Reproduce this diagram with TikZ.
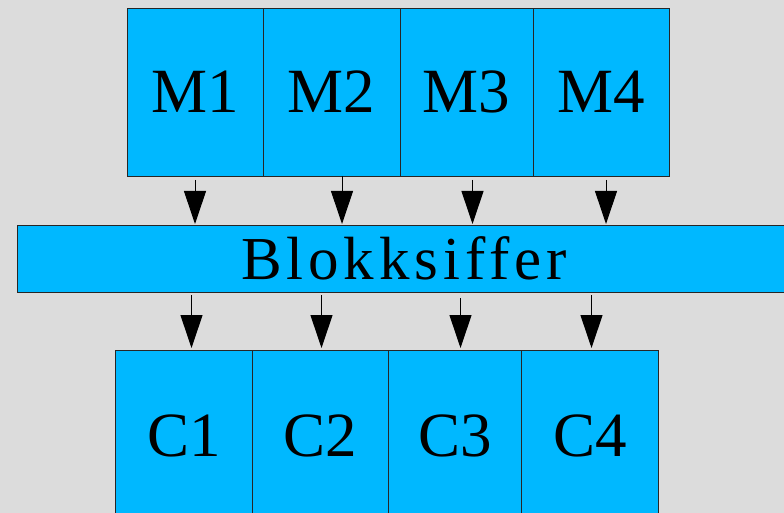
\documentclass[tikz,border=0pt]{standalone}
\usepackage{fontspec}
\setmainfont{Liberation Serif}
\newfontfamily\spacedfont[LetterSpace=8]{Liberation Serif}
\usetikzlibrary{arrows.meta}
\definecolor{bggray}{RGB}{220,220,220}
\definecolor{boxblue}{RGB}{0,184,255}
\begin{document}
\begin{tikzpicture}[x=1pt,y=-1pt,
  blk/.style={draw=black!85,line width=0.8pt,fill=boxblue,inner sep=0pt,
    minimum height=168pt,font=\fontsize{63}{63}\selectfont},
  flow/.style={line width=1pt,-{Triangle[length=33pt,width=22pt]}}]
\clip (0,0) rectangle (784,513);
\fill[bggray] (0,0) rectangle (784,513);
% message blocks
\node[blk,minimum width=136pt] (m1) at (195,92) {M1};
\node[blk,minimum width=137pt] (m2) at (331.5,92) {M2};
\node[blk,minimum width=133pt] (m3) at (466.5,92) {M3};
\node[blk,minimum width=136pt] (m4) at (601,92) {M4};
% cipher
\node[blk,minimum width=774pt,minimum height=67pt,font=\fontsize{61}{61}\spacedfont] (bs) at (404,258.5) {Blokksiffer};
% cipher blocks
\node[blk,minimum width=137pt,minimum height=172pt] (c1) at (184,436) {C1};
\node[blk,minimum width=136pt,minimum height=172pt] (c2) at (320.5,436) {C2};
\node[blk,minimum width=133pt,minimum height=172pt] (c3) at (455,436) {C3};
\node[blk,minimum width=137pt,minimum height=172pt] (c4) at (590,436) {C4};
% arrows top
\coordinate (t1s) at (195,180); \coordinate (t1e) at (195,224);
\coordinate (t2s) at (342,176); \coordinate (t2e) at (342,224);
\coordinate (t3s) at (472.5,180); \coordinate (t3e) at (472.5,224);
\coordinate (t4s) at (606,180); \coordinate (t4e) at (606,224);
\draw[flow] (t1s) -- (t1e);
\draw[flow] (t2s) -- (t2e);
\draw[flow] (t3s) -- (t3e);
\draw[flow] (t4s) -- (t4e);
% arrows bottom
\coordinate (b1s) at (191.5,295); \coordinate (b1e) at (191.5,348);
\coordinate (b2s) at (321.5,295); \coordinate (b2e) at (321.5,348);
\coordinate (b3s) at (460.5,298); \coordinate (b3e) at (460.5,348);
\coordinate (b4s) at (591.5,295); \coordinate (b4e) at (591.5,348);
\draw[flow] (b1s) -- (b1e);
\draw[flow] (b2s) -- (b2e);
\draw[flow] (b3s) -- (b3e);
\draw[flow] (b4s) -- (b4e);
\end{tikzpicture}
\end{document}
